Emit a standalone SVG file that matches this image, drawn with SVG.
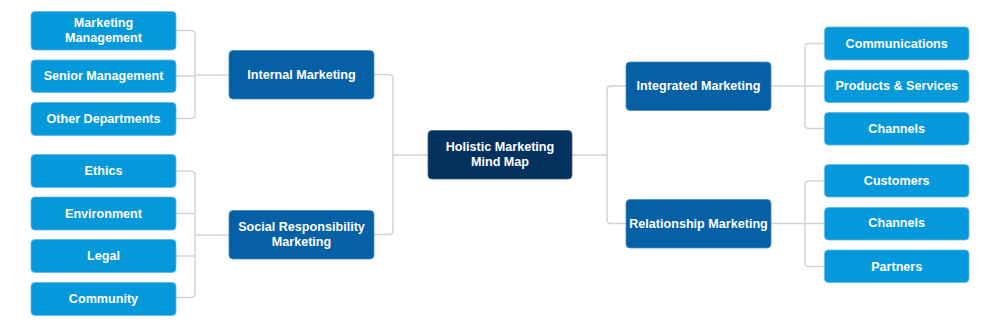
<svg xmlns="http://www.w3.org/2000/svg" width="1000" height="327" viewBox="0 0 1000 327">
<style>
.leaf{fill:#0598DA;stroke:#5fb8e6;stroke-width:0.8}
.mid{fill:#0560A6;stroke:#4a8ac0;stroke-width:0.8}
.root{fill:#03325E;stroke:#3a5f85;stroke-width:0.8}
text{font-family:"Liberation Sans",Arial,sans-serif;font-size:12.6px;font-weight:bold;fill:#ffffff;text-anchor:middle;dominant-baseline:central}
.conn path{fill:none;stroke:#d3d3d3;stroke-width:1.5}
</style>
<rect width="1000" height="327" fill="#ffffff"/>
<g class="conn" id="connectors">
<path d="M176,30.5 H191 Q195,30.5 195,34.5 V114.5 Q195,118.5 191,118.5 H176"/>
<path d="M176,76 H195"/>
<path d="M195,75 H229"/>
<path d="M176,171 H191 Q195,171 195,175 V293.5 Q195,297.5 191,297.5 H176"/>
<path d="M176,213.5 H195"/>
<path d="M176,256 H195"/>
<path d="M195,235 H229"/>
<path d="M374,74.5 H389 Q393,74.5 393,78.5 V230.5 Q393,234.5 389,234.5 H374"/>
<path d="M393,155 H428"/>
<path d="M572,155 H607"/>
<path d="M626,86 H611 Q607,86 607,90 V219.5 Q607,223.5 611,223.5 H626"/>
<path d="M771,86 H824"/>
<path d="M824,43.5 H809 Q805,43.5 805,47.5 V124.5 Q805,128.5 809,128.5 H824"/>
<path d="M771,223.5 H824"/>
<path d="M824,181 H809 Q805,181 805,185 V262.5 Q805,266.5 809,266.5 H824"/>
</g>
<g id="root"><rect class="root" x="428" y="130.5" width="144" height="48.5" rx="4"/><text x="500" y="147.3">Holistic Marketing</text><text x="500" y="162.3">Mind Map</text></g>
<g id="internal"><rect class="mid" x="229" y="50.5" width="145" height="48.5" rx="4"/><text x="301.5" y="74.5">Internal Marketing</text></g>
<g id="social"><rect class="mid" x="229" y="210.5" width="145" height="48.5" rx="4"/><text x="301.5" y="227.3">Social Responsibility</text><text x="301.5" y="242.3">Marketing</text></g>
<g id="integrated"><rect class="mid" x="626" y="62" width="145" height="48.5" rx="4"/><text x="698.5" y="86">Integrated Marketing</text></g>
<g id="relationship"><rect class="mid" x="626" y="199.5" width="145" height="48.5" rx="4"/><text x="698.5" y="223.5">Relationship Marketing</text></g>
<g id="mktmgmt"><rect class="leaf" x="31" y="11.5" width="145" height="38.5" rx="4"/><text x="103.5" y="23.3">Marketing</text><text x="103.5" y="38.3">Management</text></g>
<g id="senior"><rect class="leaf" x="31" y="60" width="145" height="32.5" rx="4"/><text x="103.5" y="76.3">Senior Management</text></g>
<g id="other"><rect class="leaf" x="31" y="102.5" width="145" height="33" rx="4"/><text x="103.5" y="118.5">Other Departments</text></g>
<g id="ethics"><rect class="leaf" x="31" y="154.5" width="145" height="33" rx="4"/><text x="103.5" y="171">Ethics</text></g>
<g id="environment"><rect class="leaf" x="31" y="197" width="145" height="33" rx="4"/><text x="103.5" y="213.5">Environment</text></g>
<g id="legal"><rect class="leaf" x="31" y="239.5" width="145" height="33" rx="4"/><text x="103.5" y="256">Legal</text></g>
<g id="community"><rect class="leaf" x="31" y="282.5" width="145" height="33" rx="4"/><text x="103.5" y="298.5">Community</text></g>
<g id="communications"><rect class="leaf" x="824.5" y="27" width="144.5" height="33" rx="4"/><text x="896.7" y="43.5">Communications</text></g>
<g id="products"><rect class="leaf" x="824.5" y="70" width="144.5" height="32.5" rx="4"/><text x="896.7" y="86.3">Products &amp; Services</text></g>
<g id="channels1"><rect class="leaf" x="824.5" y="112.5" width="144.5" height="32.5" rx="4"/><text x="896.7" y="128.5">Channels</text></g>
<g id="customers"><rect class="leaf" x="824.5" y="164.5" width="144.5" height="32.5" rx="4"/><text x="896.7" y="181">Customers</text></g>
<g id="channels2"><rect class="leaf" x="824.5" y="207.5" width="144.5" height="32.5" rx="4"/><text x="896.7" y="223.3">Channels</text></g>
<g id="partners"><rect class="leaf" x="824.5" y="250" width="144.5" height="32.5" rx="4"/><text x="896.7" y="266.7">Partners</text></g>
</svg>
